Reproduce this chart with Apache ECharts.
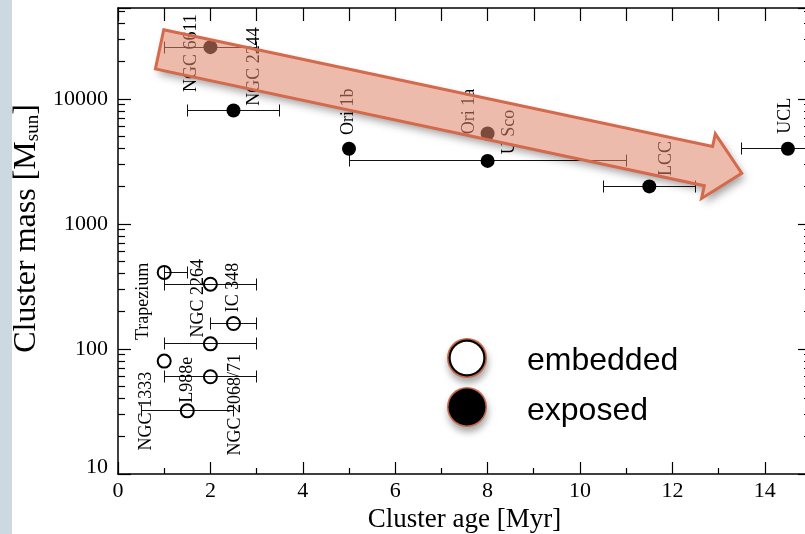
<!DOCTYPE html>
<html>
<head>
<meta charset="utf-8">
<script src="https://cdn.jsdelivr.net/npm/echarts@6/dist/echarts.min.js"></script>
<style>
  html, body { margin: 0; padding: 0; background: #fff; }
  #chart { width: 805px; height: 534px; }
</style>
</head>
<body>
<div id="chart"></div>
<script>
// Exposed clusters (filled symbols): age [Myr], mass [Msun], age range
const exposedNames   = ['NGC 6611', 'NGC 2244', 'Ori 1b', 'Ori 1a', 'U Sco', 'LCC', 'UCL'];
const exposedAge     = [2, 2.5, 5, 8, 8, 11.5, 14.5];
const exposedMass    = [26000, 8100, 4000, 5300, 3200, 2000, 4000];
const exposedAgeLow  = [1, 1.5, null, null, 5, 10.5, 13.5];
const exposedAgeHigh = [3, 3.5, null, null, 11, 12.5, 15.5];

// Embedded clusters (open symbols)
const embeddedNames   = ['Trapezium', 'NGC 2264', 'IC 348', '', 'NGC 1333', 'NGC 2068/71', 'L988e'];
const embeddedAge     = [1, 2, 2.5, 2, 1, 2, 1.5];
const embeddedMass    = [410, 330, 160, 110, 80, 60, 32];
const embeddedAgeLow  = [1, 1, 2, 1, null, 1, 0.5];
const embeddedAgeHigh = [1.5, 3, 3, 3, null, 3, 2.5];

// Axis tick labels
const massTickLabels = ['10', '100', '1000', '10000'];
const ageTickLabels  = ['0', '2', '4', '6', '8', '10', '12', '14'];

// Trend arrow, from (age, mass) to (age, mass)
const arrowTail = [0.9, 25000];
const arrowTip  = [13.5, 2550];

// Label placement: screen offsets (right, down) in pixels from each symbol
const labelOffset = {
  'NGC 6611': [-19, 6], 'NGC 2244': [21, -44], 'Ori 1b': [-1, -37], 'Ori 1a': [-18, -22],
  'U Sco': [22, -29], 'LCC': [17, -28], 'UCL': [-3, -33],
  'Trapezium': [-21, 29], 'NGC 2264': [-12, 14], 'IC 348': [0, -36],
  'NGC 2068/71': [25, 28], 'NGC 1333': [-18, 50], 'L988e': [0, -31]
};

const SERIF = 'Liberation Serif';
const MASS_MIN = 10, MASS_MAX = 53500, AGE_MIN = 0, AGE_MAX = 15;

// Labels are rotated by 90 degrees, so their offset is given in the rotated frame
function rotatedOffset(o) { return [-o[1], o[0]]; }

function pointData(names, ages, masses) {
  return names.map((n, i) => ({
    name: n,
    value: [ages[i], masses[i]],
    label: { offset: rotatedOffset(labelOffset[n] || [0, 0]) }
  }));
}

function barData(ages, masses, lo, hi) {
  const out = [];
  ages.forEach((a, i) => { if (lo[i] != null) out.push([a, masses[i], lo[i], hi[i]]); });
  return out;
}

const crisp = v => Math.round(v - 0.5) + 0.5;

function renderErrorBar(params, api) {
  const m = api.value(1);
  const p0 = api.coord([api.value(2), m]);
  const p1 = api.coord([api.value(3), m]);
  const y = crisp(p0[1]);
  const x0 = crisp(p0[0]), x1 = crisp(p1[0]);
  const st = { stroke: '#111', lineWidth: 1 };
  return {
    type: 'group',
    children: [
      { type: 'line', shape: { x1: x0, y1: y, x2: x1, y2: y }, style: st },
      { type: 'line', shape: { x1: x0, y1: y - 6, x2: x0, y2: y + 6 }, style: st },
      { type: 'line', shape: { x1: x1, y1: y - 6, x2: x1, y2: y + 6 }, style: st }
    ]
  };
}

// Minor tick positions: 2..9 x 10^k on the mass axes, odd ages on the bottom axis
const minorTicks = [];
for (let k = 1; k <= 4; k++) {
  for (let m = 2; m <= 9; m++) {
    const v = m * Math.pow(10, k);
    if (v < MASS_MAX) { minorTicks.push(['L', v]); minorTicks.push(['R', v]); }
  }
}
for (let a = 1; a < AGE_MAX; a += 2) minorTicks.push(['B', a]);

function renderMinorTick(params, api) {
  const side = api.value(0);
  const v = api.value(1);
  const st = { stroke: '#000', lineWidth: 1.2 };
  if (side === 'B') {
    const p = api.coord([v, MASS_MIN]);
    const x = crisp(p[0]);
    return { type: 'line', shape: { x1: x, y1: p[1], x2: x, y2: p[1] - 6 }, style: st };
  }
  const p = api.coord([side === 'L' ? AGE_MIN : AGE_MAX, v]);
  const y = crisp(p[1]);
  const dir = side === 'L' ? 1 : -1;
  return { type: 'line', shape: { x1: p[0], y1: y, x2: p[0] + dir * 7, y2: y }, style: st };
}

const axisLineStyle = { color: '#000', width: 1.5 };
const tickStyle = { color: '#000', width: 1.2 };

const chart = echarts.init(document.getElementById('chart'), null, { renderer: 'canvas' });

const option = {
  animation: false,
  backgroundColor: '#fff',
  grid: { left: 118, top: 8, width: 693, height: 466, containLabel: false, outerBoundsMode: 'none' },
  xAxis: [
    {
      type: 'value', min: AGE_MIN, max: AGE_MAX, interval: 2, position: 'bottom',
      axisLine: { show: true, onZero: false, lineStyle: axisLineStyle },
      axisTick: { show: true, inside: true, length: 12, lineStyle: tickStyle },
      axisLabel: {
        formatter: v => (ageTickLabels.indexOf(String(v)) >= 0 ? String(v) : ''),
        fontFamily: SERIF, fontSize: 22, color: '#000', margin: 6
      },
      splitLine: { show: false },
      name: 'Cluster age [Myr]', nameLocation: 'middle', nameGap: 31,
      nameTextStyle: { fontFamily: SERIF, fontSize: 27, color: '#000' }
    },
    {
      type: 'value', min: AGE_MIN, max: AGE_MAX, interval: 1, position: 'top',
      axisLine: { show: true, onZero: false, lineStyle: axisLineStyle },
      axisTick: { show: true, inside: true, length: 13, lineStyle: tickStyle },
      axisLabel: { show: false },
      splitLine: { show: false }
    }
  ],
  yAxis: [
    {
      type: 'log', logBase: 10, min: MASS_MIN, max: MASS_MAX, position: 'left',
      axisLine: { show: true, onZero: false, lineStyle: axisLineStyle },
      axisTick: { show: true, inside: true, length: 13, lineStyle: tickStyle },
      axisLabel: {
        formatter: v => {
          const s = String(Math.round(v));
          if (massTickLabels.indexOf(s) < 0) return '';
          return s === '10' ? '{lo|10}' : s;
        },
        fontFamily: SERIF, fontSize: 22, color: '#000', margin: 10,
        rich: { lo: { fontFamily: SERIF, fontSize: 22, color: '#000', padding: [0, 0, 14, 0] } }
      },
      splitLine: { show: false },
      name: 'Cluster mass [M{sub|sun}]', nameLocation: 'middle', nameRotate: 90, nameGap: 75,
      nameTextStyle: {
        fontFamily: SERIF, fontSize: 32, color: '#000', padding: [0, 0, 0, 25],
        rich: {
          sub: { fontFamily: SERIF, fontSize: 19, color: '#000', lineHeight: 17, verticalAlign: 'bottom' }
        }
      }
    },
    {
      type: 'log', logBase: 10, min: MASS_MIN, max: MASS_MAX, position: 'right',
      axisLine: { show: true, onZero: false, lineStyle: axisLineStyle },
      axisTick: { show: true, inside: true, length: 13, lineStyle: tickStyle },
      axisLabel: { show: false },
      splitLine: { show: false }
    }
  ],
  series: [
    {
      type: 'custom', name: 'ticks', silent: true, xAxisIndex: 0, yAxisIndex: 0,
      renderItem: renderMinorTick, data: minorTicks, encode: { x: -1, y: -1 }, z: 1
    },
    {
      type: 'custom', name: 'embedded bars', silent: true, xAxisIndex: 0, yAxisIndex: 0,
      renderItem: renderErrorBar,
      data: barData(embeddedAge, embeddedMass, embeddedAgeLow, embeddedAgeHigh),
      encode: { x: [0, 2, 3], y: 1 }, z: 2
    },
    {
      type: 'custom', name: 'exposed bars', silent: true, xAxisIndex: 0, yAxisIndex: 0,
      renderItem: renderErrorBar,
      data: barData(exposedAge, exposedMass, exposedAgeLow, exposedAgeHigh),
      encode: { x: [0, 2, 3], y: 1 }, z: 2
    },
    {
      type: 'scatter', name: 'embedded', silent: true, xAxisIndex: 0, yAxisIndex: 0,
      symbol: 'circle', symbolSize: 13,
      itemStyle: { color: 'rgba(0,0,0,0)', borderColor: '#000', borderWidth: 2, opacity: 1 },
      label: {
        show: true, formatter: '{b}', rotate: 90, position: 'inside',
        fontFamily: SERIF, fontSize: 18, color: '#000', align: 'center', verticalAlign: 'middle'
      },
      data: pointData(embeddedNames, embeddedAge, embeddedMass), z: 3
    },
    {
      type: 'scatter', name: 'exposed', silent: true, xAxisIndex: 0, yAxisIndex: 0,
      symbol: 'circle', symbolSize: 14,
      itemStyle: { color: '#000', opacity: 1 },
      label: {
        show: true, formatter: '{b}', rotate: 90, position: 'inside',
        fontFamily: SERIF, fontSize: 18, color: '#000', align: 'center', verticalAlign: 'middle'
      },
      data: pointData(exposedNames, exposedAge, exposedMass), z: 3
    }
  ]
};

chart.setOption(option);

// Arrow outline in pixels, built from the trend end points on the axes
const t = chart.convertToPixel({ xAxisIndex: 0, yAxisIndex: 0 }, arrowTail);
const h = chart.convertToPixel({ xAxisIndex: 0, yAxisIndex: 0 }, arrowTip);
const len = Math.hypot(h[0] - t[0], h[1] - t[1]);
const d = [(h[0] - t[0]) / len, (h[1] - t[1]) / len];
const n = [-d[1], d[0]];
const shaftHalf = 20, headLen = 34, headHalf = 33;
const base = [h[0] - d[0] * headLen, h[1] - d[1] * headLen];
const P = (p, k) => [p[0] + n[0] * k, p[1] + n[1] * k];
const arrowPts = [P(t, -shaftHalf), P(base, -shaftHalf), P(base, -headHalf), h,
                  P(base, headHalf), P(base, shaftHalf), P(t, shaftHalf)];

function legendMarker(cx, cy, filled) {
  const children = [
    { type: 'circle', shape: { cx, cy, r: 20 },
      style: { fill: '#c8684b', shadowBlur: 7, shadowOffsetX: 1, shadowOffsetY: 5, shadowColor: 'rgba(0,0,0,0.35)' } },
    { type: 'circle', shape: { cx, cy, r: 18.5 }, style: { fill: '#000' } }
  ];
  if (!filled) children.push({ type: 'circle', shape: { cx, cy, r: 16.3 }, style: { fill: '#fff' } });
  return { type: 'group', children };
}

chart.setOption({
  graphic: [
    { type: 'rect', shape: { x: 0, y: 0, width: 12, height: 534 }, style: { fill: '#cdd9e0' }, z: 100 },
    // arrow shadow, kept outside the arrow body
    { type: 'polygon', zlevel: 1, z: 10, shape: { points: arrowPts },
      style: { fill: '#000', shadowBlur: 9, shadowOffsetX: 3, shadowOffsetY: 5, shadowColor: 'rgba(0,0,0,0.38)' } },
    { type: 'polygon', zlevel: 1, z: 11, shape: { points: arrowPts },
      style: { fill: '#000', blend: 'destination-out' } },
    { type: 'polygon', zlevel: 1, z: 12, shape: { points: arrowPts },
      style: { fill: 'rgba(223,134,107,0.56)', stroke: '#d4694c', lineWidth: 3, lineJoin: 'miter' } },
    // legend
    legendMarker(467, 358, false),
    legendMarker(467, 407, true),
    { type: 'text', x: 527, y: 361,
      style: { text: 'embedded', font: '32px "Liberation Sans"', fill: '#000', verticalAlign: 'middle' } },
    { type: 'text', x: 527, y: 411,
      style: { text: 'exposed', font: '32px "Liberation Sans"', fill: '#000', verticalAlign: 'middle' } }
  ]
});
</script>
</body>
</html>
